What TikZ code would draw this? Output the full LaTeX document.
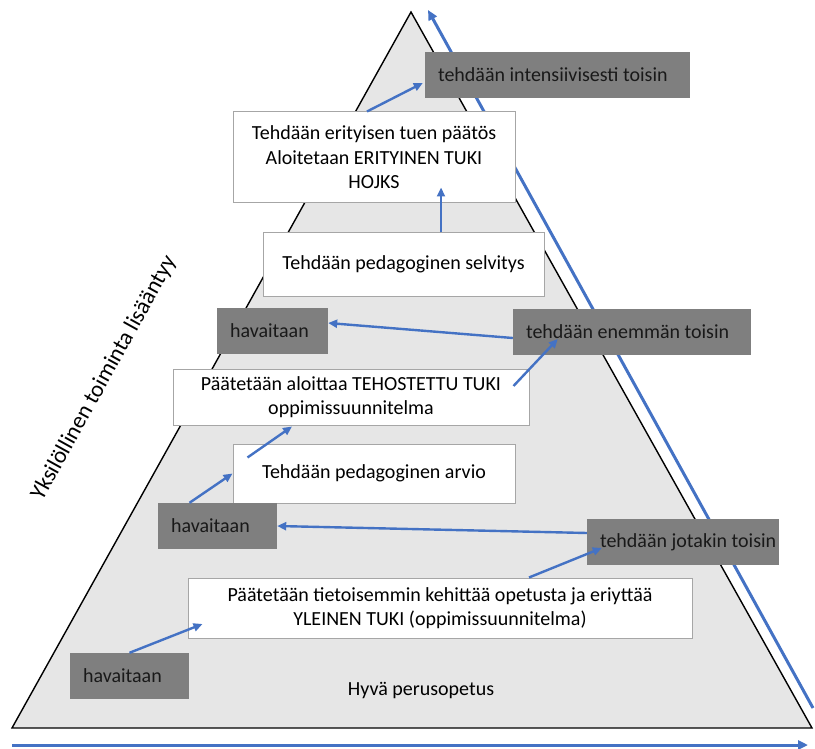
\documentclass[tikz,border=0pt]{standalone}
\usepackage{fontspec}
\setmainfont{Carlito}
\usetikzlibrary{arrows.meta}
\definecolor{pfeilblau}{HTML}{4472C4}
\definecolor{kastengrau}{HTML}{7F7F7F}
\definecolor{flaeche}{HTML}{E6E6E6}
\definecolor{rand}{HTML}{A6A6A6}

\begin{document}
\begin{tikzpicture}[x=1pt, y=-1pt,
        graybox/.style={fill=kastengrau, text=black!90, minimum height=46pt,
                        inner xsep=13pt, align=flush left},
        whitebox/.style={draw=rand, fill=white, line width=1pt, align=center,
                         inner sep=0pt},
        arr/.style={-{Triangle[length=9pt, width=8pt]}, line width=2.4pt, draw=pfeilblau},
        bigarr/.style={-{Triangle[length=10pt, width=9pt]}, line width=3pt, draw=pfeilblau},
        font=\fontsize{20}{24.5}\selectfont
      ]
      \useasboundingbox (0,0) rectangle (815,749);

      % Dreieck und Achsen
      \coordinate (spitze) at (411,12);
      \coordinate (lu) at (12,728);
      \coordinate (ru) at (812,728);
      \filldraw[fill=flaeche, line width=1.4pt] (spitze) -- (lu) -- (ru) -- cycle;

      \coordinate (xa) at (12,745);
      \coordinate (xb) at (808,745);
      \coordinate (ya) at (813,708);
      \coordinate (yb) at (428,10);
      \draw[bigarr] (xa) -- (xb);
      \draw[bigarr] (ya) -- (yb);

      \node[rotate=61, font=\fontsize{23}{27}\selectfont] (yksil) at (104,378)
        {Yksilöllinen toiminta lisääntyy};
      \node (perus) at (421,690) {Hyvä perusopetus};

      % Kaesten von oben nach unten
      \node[graybox, text width=239pt] (intens) at (557.5,75) {tehdään intensiivisesti toisin};
      \node[whitebox, minimum width=282pt, minimum height=91pt] (erit) at (374,157.5)
        {Tehdään erityisen tuen päätös\\Aloitetaan ERITYINEN TUKI\\HOJKS};
      \node[whitebox, minimum width=281pt, minimum height=63pt] (selv) at (403.5,264.5)
        {Tehdään pedagoginen selvitys};
      \node[graybox, text width=85pt] (hav1) at (272.5,331) {havaitaan};
      \node[graybox, text width=212pt] (enem) at (632,332) {tehdään enemmän toisin};
      \node[whitebox, minimum width=356pt, minimum height=56pt] (teho) at (351,397)
        {Päätetään aloittaa TEHOSTETTU TUKI\\oppimissuunnitelma};
      \node[whitebox, minimum width=282pt, minimum height=59pt] (arvio) at (374,473.5)
        {Tehdään pedagoginen arvio};
      \node[graybox, text width=93pt] (hav2) at (217.5,526) {havaitaan};
      \node[graybox, text width=166pt] (jotak) at (683,542)
        {\mbox{tehdään jotakin toisin}};
      \node[whitebox, minimum width=504pt, minimum height=60pt] (yle) at (440,608)
        {Päätetään tietoisemmin kehittää opetusta ja eriyttää\\YLEINEN TUKI (oppimissuunnitelma)};
      \node[graybox, text width=93pt] (hav3) at (129.5,676) {havaitaan};

      % Pfeile
      \draw[arr] (hav3.north) -- ([xshift=15pt, yshift=-16pt]yle.west);
      \draw[arr] ([xshift=89pt]yle.north) -- ([xshift=15pt, yshift=-6pt]jotak.west);
      \draw[arr] ([yshift=9pt]jotak.west) -- (hav2.east);
      \draw[arr] ([xshift=-28pt]hav2.north) -- (arvio.west);
      \draw[arr] ([xshift=15pt, yshift=-14pt]arvio.north west) -- ([xshift=-59pt, yshift=-1pt]teho.south);
      \draw[arr] ([xshift=-16pt, yshift=11pt]teho.east) -- ([xshift=45pt, yshift=-7pt]enem.west);
      \draw[arr] ([yshift=-6pt]enem.west) -- ([yshift=8pt]hav1.east);
      \draw[arr] ([xshift=37.5pt]selv.north) -- ([xshift=67pt, yshift=16pt]erit.south);
      \draw[arr] ([xshift=-7pt]erit.north) -- ([xshift=-2pt, yshift=-8pt]intens.west);
    \end{tikzpicture}
\end{document}
